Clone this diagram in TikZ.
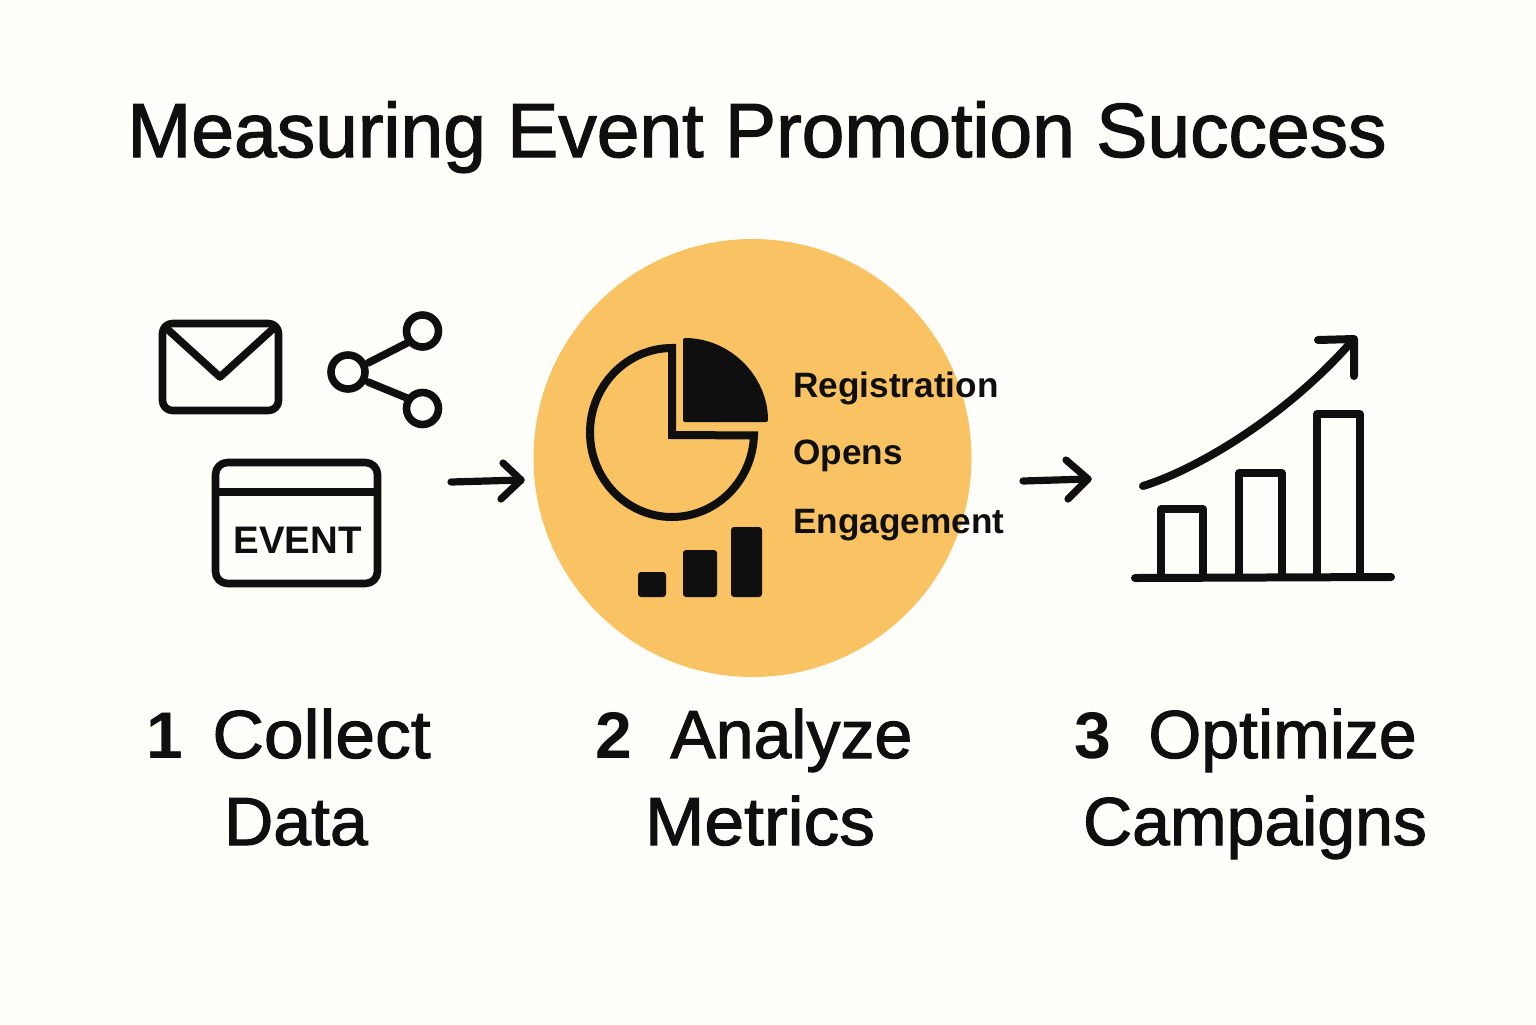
\documentclass[tikz,border=0pt]{standalone}
\usepackage{fontspec}
\setmainfont{Liberation Sans}
\newfontfamily\medfont[FakeBold=1.6]{Liberation Sans}
\definecolor{bgc}{HTML}{FFFEFA}
\definecolor{ink}{HTML}{0F0F0F}
\definecolor{disc}{HTML}{F9C262}
\tikzset{
  icon/.style={draw=ink,line width=3.8pt,line cap=round,line join=round},
  pieline/.style={draw=ink,line width=4pt,line join=miter},
  fillbar/.style={fill=ink,rounded corners=1.5pt},
  flow/.style={draw=ink,line width=3.6pt,line cap=round,line join=round},
  lbl/.style={text=ink,font=\fontsize{17.6}{20}\selectfont\bfseries,anchor=base west,inner sep=0pt},
  steplbl/.style={text=ink,font=\fontsize{34}{40}\medfont,inner sep=0pt,anchor=base},
  stepnum/.style={text=ink,font=\fontsize{33}{40}\selectfont\bfseries,inner sep=0pt,anchor=base},
}
\begin{document}
\begin{tikzpicture}[x=0.5pt,y=-0.5pt]
\path[fill=bgc] (0,0) rectangle (1536,1024);
\useasboundingbox (0,0) rectangle (1536,1024);
\node[text=ink,font=\fontsize{38.4}{40}\medfont,inner sep=0pt,anchor=base] (title) at (757,157) {Measuring Event Promotion Success};
\fill[disc] (752.5,458) circle [radius=219];
% envelope
\draw[icon,rounded corners=5pt] (162.5,323.5) rectangle (278.5,410.5);
\draw[icon] (165,327) -- (220,377) -- (275,327);
% share
\coordinate (shl) at (348,372);
\coordinate (sht) at (422.5,331);
\coordinate (shb) at (422.5,408.5);
\draw[icon] (shl) circle [radius=17];
\draw[icon] (sht) circle [radius=16];
\draw[icon] (shb) circle [radius=16];
\draw[icon] (368,363) -- (407,343);
\draw[icon] (368,382) -- (407,398);
% event
\draw[icon,rounded corners=6pt] (215.5,462.5) rectangle (377.5,583.5);
\draw[icon,line cap=butt] (215.5,492) -- (377.5,492);
\node[text=ink,font=\fontsize{19.2}{20}\selectfont\bfseries,inner sep=0pt,anchor=base] (ev) at (297.5,553) {EVENT};
% arrows
\coordinate (a1s) at (451,482); \coordinate (a1e) at (521,480);
\draw[flow] (a1s) -- (a1e);
\draw[flow] (503,463) -- (a1e) -- (501,499);
\coordinate (a2s) at (1023,481); \coordinate (a2e) at (1088,479);
\draw[flow] (a2s) -- (a2e);
\draw[flow] (1066,460) -- (a2e) -- (1068,499);
% pie
\draw[pieline] (672,348) arc [start angle=270,end angle=2,x radius=82,y radius=84.5] -- (672,435) -- cycle;
\path[fill=ink,rounded corners=1pt] (683,338) .. controls (730,338) and (768,376) .. (768,422) -- (683,422) -- cycle;
% bars
\path[fillbar] (638,572) rectangle (666,597);
\path[fillbar] (683,550) rectangle (717,597);
\path[fillbar] (731,527) rectangle (762,597);
% labels
\node[lbl] (r) at (793,397) {Registration};
\node[lbl] (o) at (793,464) {Opens};
\node[lbl] (e) at (793,533) {Engagement};
% chart
\draw[icon,line width=4pt] (1135,578) -- (1391,577);
\draw[icon,line cap=butt] (1161,577) -- (1161,509) -- (1203,509) -- (1203,577);
\draw[icon,line cap=butt] (1239,577) -- (1239,473) -- (1282,473) -- (1282,577);
\draw[icon,line cap=butt] (1317,577) -- (1317,414) -- (1360,414) -- (1360,577);
\draw[icon,line width=4pt] (1143,486) .. controls (1195,470) and (1285,418) .. (1353,340);
\draw[icon,line width=4pt] (1318,340) -- (1354,339) -- (1354,376);
% step labels
\node[stepnum] (n1) at (165,758) {1};
\node[steplbl,anchor=base west,xscale=1.05,transform shape] (s1) at (212,758) {Collect};
\node[steplbl] (s1b) at (296,845) {Data};
\node[stepnum] (n2) at (614,758) {2};
\node[steplbl,anchor=base west] (s2) at (670,758) {Analyze};
\node[steplbl,xscale=1.05,transform shape] (s2b) at (760,845) {Metrics};
\node[stepnum] (n3) at (1093,758) {3};
\node[steplbl,anchor=base west] (s3) at (1148,758) {Optimize};
\node[steplbl] (s3b) at (1255,845) {Campaigns};
\end{tikzpicture}
\end{document}
